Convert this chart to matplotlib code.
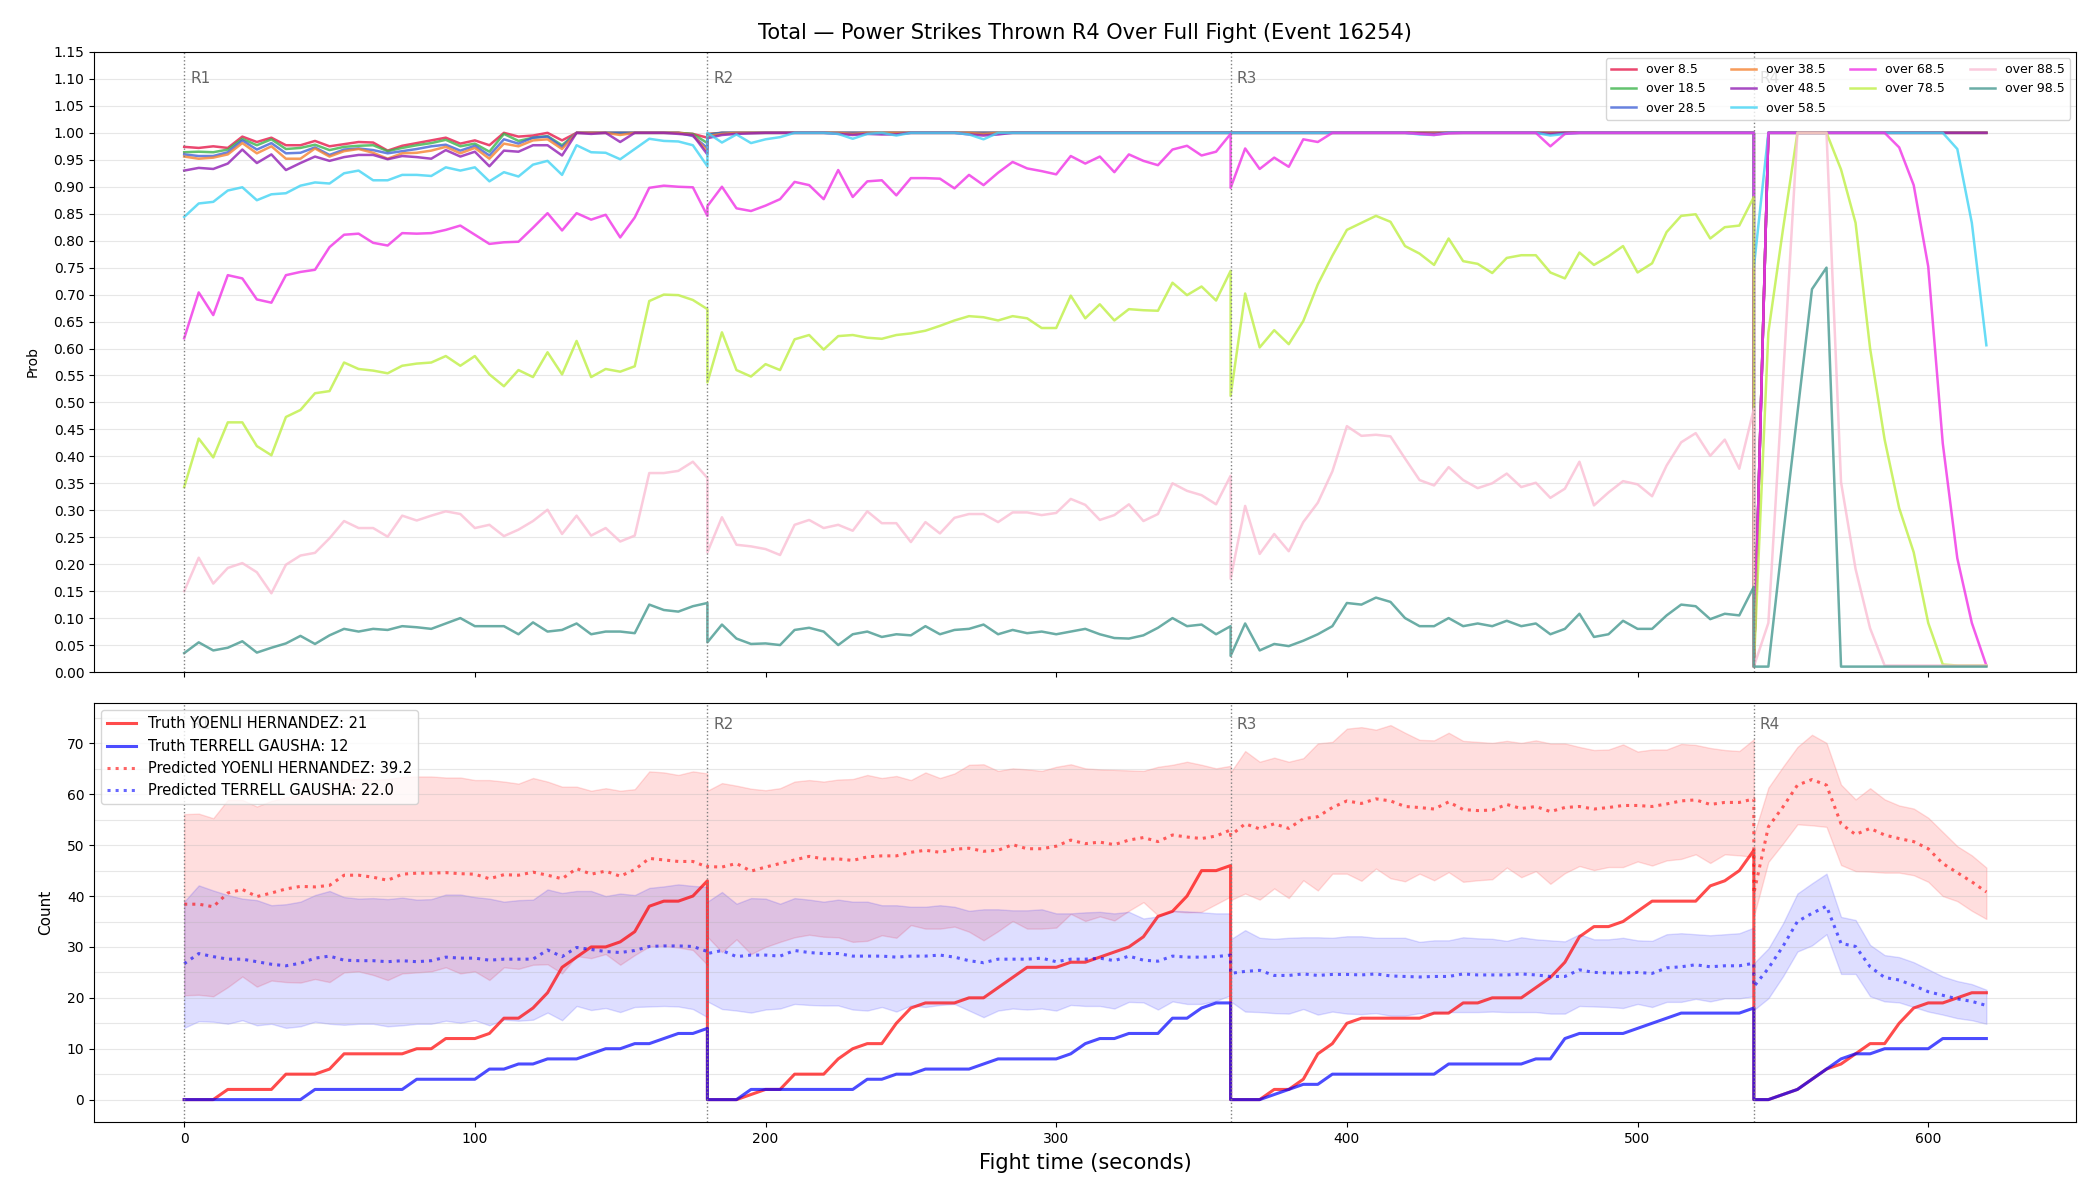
import numpy as np
import matplotlib.pyplot as plt
from matplotlib.ticker import MultipleLocator, FormatStrFormatter

# ---- time grid (seconds into each round, 5 s sampling) ----
ROUND_STARTS = [0, 180, 360, 540]
ROUND_NAMES = ["R1", "R2", "R3", "R4"]
ROUND_CLOCK = list(range(0, 181, 5))   # full rounds R1-R3
R4_CLOCK = list(range(0, 81, 5))       # R4 stopped at 80 s

# ---- top panel: P(over line), one list per round ----
p8_5 = [
    [0.974, 0.972, 0.975, 0.972, 0.993, 0.983, 0.991, 0.977, 0.977, 0.985, 0.975, 0.979, 0.983, 0.982, 0.967, 0.976, 0.981, 0.986, 0.991,
     0.980, 0.986, 0.977, 1.0, 0.993, 0.995, 1.0, 0.986, 1.0, 1.0, 1.0, 1.0, 1.0, 1.0, 1.0, 1.0, 0.998, 0.991],
    [0.998, 1.0, 1.0, 1.0, 1.0, 1.0, 1.0, 1.0, 1.0, 1.0, 1.0, 1.0, 1.0, 1.0, 1.0, 1.0, 1.0, 1.0, 1.0,
     1.0, 1.0, 1.0, 1.0, 1.0, 1.0, 1.0, 1.0, 1.0, 1.0, 1.0, 1.0, 1.0, 1.0, 1.0, 1.0, 1.0, 1.0],
    [1.0, 1.0, 1.0, 1.0, 1.0, 1.0, 1.0, 1.0, 1.0, 1.0, 1.0, 1.0, 1.0, 1.0, 1.0, 1.0, 1.0, 1.0, 1.0,
     1.0, 1.0, 1.0, 1.0, 1.0, 1.0, 1.0, 1.0, 1.0, 1.0, 1.0, 1.0, 1.0, 1.0, 1.0, 1.0, 1.0, 1.0],
    [0.01, 1.0, 1.0, 1.0, 1.0, 1.0, 1.0, 1.0, 1.0, 1.0, 1.0, 1.0, 1.0, 1.0, 1.0, 1.0, 1.0],
]
p18_5 = [
    [0.964, 0.965, 0.964, 0.969, 0.989, 0.977, 0.988, 0.970, 0.972, 0.978, 0.968, 0.974, 0.976, 0.977, 0.966, 0.972, 0.977, 0.981, 0.987,
     0.975, 0.980, 0.965, 0.998, 0.985, 0.991, 0.994, 0.977, 1.0, 1.0, 1.0, 1.0, 1.0, 1.0, 1.0, 1.0, 0.998, 0.981],
    [0.997, 1.0, 1.0, 1.0, 1.0, 1.0, 1.0, 1.0, 1.0, 1.0, 1.0, 1.0, 1.0, 1.0, 1.0, 1.0, 1.0, 1.0, 1.0,
     1.0, 1.0, 1.0, 1.0, 1.0, 1.0, 1.0, 1.0, 1.0, 1.0, 1.0, 1.0, 1.0, 1.0, 1.0, 1.0, 1.0, 1.0],
    [1.0, 1.0, 1.0, 1.0, 1.0, 1.0, 1.0, 1.0, 1.0, 1.0, 1.0, 1.0, 1.0, 1.0, 1.0, 1.0, 1.0, 1.0, 1.0,
     1.0, 1.0, 1.0, 1.0, 1.0, 1.0, 1.0, 1.0, 1.0, 1.0, 1.0, 1.0, 1.0, 1.0, 1.0, 1.0, 1.0, 1.0],
    [0.01, 1.0, 1.0, 1.0, 1.0, 1.0, 1.0, 1.0, 1.0, 1.0, 1.0, 1.0, 1.0, 1.0, 1.0, 1.0, 1.0],
]
p28_5 = [
    [0.960, 0.957, 0.957, 0.964, 0.986, 0.969, 0.981, 0.962, 0.963, 0.973, 0.959, 0.969, 0.971, 0.968, 0.962, 0.966, 0.970, 0.975, 0.978,
     0.967, 0.976, 0.958, 0.988, 0.980, 0.991, 0.993, 0.974, 1.0, 1.0, 1.0, 1.0, 1.0, 1.0, 1.0, 1.0, 0.994, 0.972],
    [0.996, 1.0, 1.0, 1.0, 1.0, 1.0, 1.0, 1.0, 1.0, 1.0, 1.0, 1.0, 1.0, 1.0, 1.0, 1.0, 1.0, 1.0, 1.0,
     1.0, 1.0, 1.0, 1.0, 1.0, 1.0, 1.0, 1.0, 1.0, 1.0, 1.0, 1.0, 1.0, 1.0, 1.0, 1.0, 1.0, 1.0],
    [1.0, 1.0, 1.0, 1.0, 1.0, 1.0, 1.0, 1.0, 1.0, 1.0, 1.0, 1.0, 1.0, 1.0, 1.0, 1.0, 1.0, 1.0, 1.0,
     1.0, 1.0, 1.0, 1.0, 1.0, 1.0, 1.0, 1.0, 1.0, 1.0, 1.0, 1.0, 1.0, 1.0, 1.0, 1.0, 1.0, 1.0],
    [0.01, 1.0, 1.0, 1.0, 1.0, 1.0, 1.0, 1.0, 1.0, 1.0, 1.0, 1.0, 1.0, 1.0, 1.0, 1.0, 1.0],
]
p38_5 = [
    [0.956, 0.952, 0.954, 0.960, 0.981, 0.962, 0.975, 0.952, 0.952, 0.971, 0.956, 0.966, 0.970, 0.963, 0.952, 0.962, 0.963, 0.967, 0.974,
     0.962, 0.972, 0.952, 0.980, 0.975, 0.986, 0.988, 0.970, 1.0, 1.0, 1.0, 0.996, 1.0, 1.0, 1.0, 1.0, 0.996, 0.966],
    [0.994, 0.998, 1.0, 1.0, 1.0, 1.0, 1.0, 1.0, 1.0, 1.0, 0.998, 1.0, 1.0, 1.0, 1.0, 1.0, 1.0, 1.0, 1.0,
     0.998, 1.0, 1.0, 1.0, 1.0, 1.0, 1.0, 1.0, 1.0, 1.0, 1.0, 1.0, 1.0, 1.0, 1.0, 1.0, 1.0, 1.0],
    [1.0, 1.0, 1.0, 1.0, 1.0, 1.0, 1.0, 1.0, 1.0, 1.0, 1.0, 1.0, 1.0, 1.0, 1.0, 1.0, 1.0, 1.0, 1.0,
     1.0, 1.0, 1.0, 1.0, 1.0, 1.0, 1.0, 1.0, 1.0, 1.0, 1.0, 1.0, 1.0, 1.0, 1.0, 1.0, 1.0, 1.0],
    [0.01, 1.0, 1.0, 1.0, 1.0, 1.0, 1.0, 1.0, 1.0, 1.0, 1.0, 1.0, 1.0, 1.0, 1.0, 1.0, 1.0],
]
p48_5 = [
    [0.930, 0.935, 0.933, 0.943, 0.969, 0.944, 0.960, 0.931, 0.944, 0.956, 0.948, 0.955, 0.959, 0.959, 0.951, 0.957, 0.955, 0.952, 0.968,
     0.956, 0.965, 0.938, 0.967, 0.965, 0.977, 0.977, 0.958, 1.0, 0.998, 1.0, 0.983, 1.0, 1.0, 1.0, 0.998, 0.996, 0.960],
    [0.990, 0.996, 0.998, 0.999, 1.0, 1.0, 1.0, 1.0, 1.0, 0.998, 0.996, 0.998, 0.997, 0.997, 1.0, 1.0, 1.0, 1.0, 0.997,
     0.995, 0.997, 1.0, 1.0, 1.0, 1.0, 1.0, 1.0, 1.0, 1.0, 1.0, 1.0, 1.0, 1.0, 1.0, 1.0, 1.0, 1.0],
    [1.0, 1.0, 1.0, 1.0, 1.0, 1.0, 1.0, 1.0, 1.0, 1.0, 1.0, 1.0, 1.0, 0.999, 0.998, 1.0, 1.0, 1.0, 1.0,
     1.0, 1.0, 1.0, 0.998, 1.0, 1.0, 1.0, 1.0, 1.0, 1.0, 1.0, 1.0, 1.0, 1.0, 1.0, 1.0, 1.0, 1.0],
    [0.01, 1.0, 1.0, 1.0, 1.0, 1.0, 1.0, 1.0, 1.0, 1.0, 1.0, 1.0, 1.0, 1.0, 1.0, 1.0, 1.0],
]
p58_5 = [
    [0.844, 0.869, 0.872, 0.893, 0.899, 0.875, 0.886, 0.888, 0.902, 0.908, 0.906, 0.925, 0.930, 0.912, 0.912, 0.922, 0.922, 0.920, 0.936,
     0.930, 0.936, 0.910, 0.927, 0.919, 0.941, 0.948, 0.922, 0.977, 0.964, 0.963, 0.951, 0.970, 0.989, 0.985, 0.984, 0.977, 0.938],
    [1.0, 0.982, 0.997, 0.981, 0.988, 0.992, 1.0, 1.0, 1.0, 0.998, 0.989, 0.998, 1.0, 0.995, 1.0, 1.0, 1.0, 1.0, 0.997,
     0.988, 1.0, 1.0, 1.0, 1.0, 1.0, 1.0, 1.0, 1.0, 1.0, 1.0, 1.0, 1.0, 1.0, 1.0, 1.0, 1.0, 1.0],
    [1.0, 1.0, 1.0, 1.0, 1.0, 1.0, 1.0, 1.0, 1.0, 1.0, 1.0, 1.0, 1.0, 0.997, 0.996, 1.0, 1.0, 1.0, 1.0,
     1.0, 1.0, 1.0, 0.995, 0.998, 1.0, 1.0, 1.0, 1.0, 1.0, 1.0, 1.0, 1.0, 1.0, 1.0, 1.0, 1.0, 1.0],
    [0.75, 1.0, 1.0, 1.0, 1.0, 1.0, 1.0, 1.0, 1.0, 1.0, 1.0, 1.0, 1.0, 1.0, 0.970, 0.833, 0.606],
]
p68_5 = [
    [0.619, 0.704, 0.662, 0.736, 0.730, 0.691, 0.685, 0.736, 0.742, 0.746, 0.788, 0.811, 0.813, 0.796, 0.791, 0.814, 0.813, 0.814, 0.820,
     0.828, 0.811, 0.794, 0.797, 0.798, 0.824, 0.851, 0.819, 0.851, 0.839, 0.848, 0.806, 0.843, 0.898, 0.902, 0.900, 0.899, 0.846],
    [0.864, 0.900, 0.860, 0.855, 0.865, 0.877, 0.909, 0.903, 0.877, 0.931, 0.881, 0.910, 0.912, 0.884, 0.916, 0.916, 0.915, 0.897, 0.922,
     0.903, 0.926, 0.946, 0.934, 0.929, 0.923, 0.957, 0.943, 0.956, 0.927, 0.960, 0.948, 0.940, 0.969, 0.976, 0.958, 0.965, 0.998],
    [0.898, 0.971, 0.933, 0.954, 0.937, 0.988, 0.983, 1.0, 1.0, 1.0, 1.0, 1.0, 1.0, 0.998, 0.996, 0.999, 1.0, 1.0, 1.0,
     1.0, 1.0, 1.0, 0.975, 0.998, 1.0, 1.0, 1.0, 1.0, 1.0, 1.0, 1.0, 1.0, 1.0, 1.0, 1.0, 1.0, 1.0],
    [0.01, 1.0, 1.0, 1.0, 1.0, 1.0, 1.0, 1.0, 1.0, 1.0, 0.973, 0.903, 0.752, 0.424, 0.211, 0.091, 0.012],
]
p78_5 = [
    [0.343, 0.433, 0.398, 0.463, 0.463, 0.419, 0.402, 0.473, 0.486, 0.517, 0.521, 0.574, 0.562, 0.559, 0.554, 0.568, 0.572, 0.574, 0.586,
     0.568, 0.586, 0.552, 0.530, 0.560, 0.547, 0.593, 0.552, 0.614, 0.547, 0.562, 0.557, 0.567, 0.688, 0.700, 0.699, 0.690, 0.673],
    [0.537, 0.630, 0.560, 0.548, 0.571, 0.560, 0.617, 0.625, 0.598, 0.623, 0.625, 0.620, 0.618, 0.625, 0.628, 0.633, 0.642, 0.652, 0.660,
     0.658, 0.652, 0.660, 0.656, 0.638, 0.638, 0.698, 0.656, 0.682, 0.652, 0.673, 0.671, 0.670, 0.722, 0.699, 0.715, 0.689, 0.744],
    [0.512, 0.702, 0.602, 0.634, 0.608, 0.651, 0.719, 0.772, 0.820, 0.833, 0.846, 0.835, 0.790, 0.776, 0.755, 0.804, 0.762, 0.757, 0.740,
     0.768, 0.773, 0.773, 0.741, 0.730, 0.778, 0.755, 0.771, 0.790, 0.741, 0.758, 0.816, 0.846, 0.849, 0.804, 0.825, 0.828, 0.881],
    [0.01, 0.63, 0.82, 1.0, 1.0, 1.0, 0.932, 0.833, 0.600, 0.431, 0.304, 0.222, 0.091, 0.014, 0.012, 0.012, 0.012],
]
p88_5 = [
    [0.150, 0.212, 0.164, 0.193, 0.202, 0.185, 0.146, 0.199, 0.216, 0.221, 0.248, 0.280, 0.267, 0.267, 0.251, 0.290, 0.281, 0.290, 0.298,
     0.293, 0.267, 0.273, 0.252, 0.264, 0.280, 0.301, 0.256, 0.290, 0.253, 0.267, 0.242, 0.253, 0.369, 0.369, 0.373, 0.390, 0.360],
    [0.222, 0.287, 0.236, 0.233, 0.228, 0.217, 0.273, 0.282, 0.267, 0.273, 0.262, 0.298, 0.276, 0.276, 0.241, 0.278, 0.257, 0.286, 0.293,
     0.293, 0.278, 0.296, 0.296, 0.291, 0.295, 0.321, 0.310, 0.282, 0.291, 0.311, 0.280, 0.293, 0.350, 0.336, 0.328, 0.311, 0.364],
    [0.173, 0.308, 0.219, 0.256, 0.224, 0.278, 0.314, 0.372, 0.456, 0.438, 0.440, 0.437, 0.396, 0.356, 0.346, 0.380, 0.356, 0.341, 0.350,
     0.368, 0.343, 0.351, 0.323, 0.340, 0.390, 0.309, 0.333, 0.354, 0.348, 0.326, 0.383, 0.426, 0.443, 0.401, 0.431, 0.377, 0.488],
    [0.01, 0.091, 0.54, 1.0, 1.0, 1.0, 0.352, 0.191, 0.081, 0.012, 0.012, 0.012, 0.012, 0.012, 0.012, 0.012, 0.012],
]
p98_5 = [
    [0.035, 0.055, 0.040, 0.045, 0.057, 0.036, 0.045, 0.053, 0.067, 0.052, 0.068, 0.080, 0.075, 0.080, 0.078, 0.085, 0.083, 0.080, 0.090,
     0.100, 0.085, 0.085, 0.085, 0.070, 0.092, 0.075, 0.078, 0.090, 0.070, 0.075, 0.075, 0.072, 0.125, 0.115, 0.112, 0.122, 0.128],
    [0.055, 0.088, 0.062, 0.052, 0.053, 0.050, 0.078, 0.082, 0.075, 0.050, 0.070, 0.075, 0.065, 0.070, 0.068, 0.085, 0.070, 0.078, 0.080,
     0.088, 0.070, 0.078, 0.072, 0.075, 0.070, 0.075, 0.080, 0.070, 0.063, 0.062, 0.068, 0.082, 0.100, 0.085, 0.088, 0.070, 0.085],
    [0.030, 0.090, 0.040, 0.052, 0.048, 0.058, 0.070, 0.085, 0.128, 0.125, 0.138, 0.130, 0.100, 0.085, 0.085, 0.100, 0.085, 0.090, 0.085,
     0.095, 0.085, 0.090, 0.070, 0.080, 0.108, 0.065, 0.070, 0.095, 0.080, 0.080, 0.105, 0.125, 0.122, 0.098, 0.108, 0.105, 0.158],
    [0.01, 0.01, 0.25, 0.48, 0.71, 0.75, 0.01, 0.01, 0.01, 0.01, 0.01, 0.01, 0.01, 0.01, 0.01, 0.01, 0.01],
]

LINES = ["over 8.5", "over 18.5", "over 28.5", "over 38.5", "over 48.5",
         "over 58.5", "over 68.5", "over 78.5", "over 88.5", "over 98.5"]
LINE_COLORS = ["#e6194b", "#3cb44b", "#4363d8", "#f58231", "#911eb4",
               "#42d4f4", "#f032e6", "#bfef45", "#fabed4", "#469990"]

# ---- bottom panel: cumulative counts per round ----
hernandez_truth = [
    [0, 0, 0, 2, 2, 2, 2, 5, 5, 5, 6, 9, 9, 9, 9, 9, 10, 10, 12, 12, 12, 13, 16, 16, 18, 21, 26, 28, 30, 30, 31, 33, 38, 39, 39, 40, 43],
    [0, 0, 0, 1, 2, 2, 5, 5, 5, 8, 10, 11, 11, 15, 18, 19, 19, 19, 20, 20, 22, 24, 26, 26, 26, 27, 27, 28, 29, 30, 32, 36, 37, 40, 45, 45, 46],
    [0, 0, 0, 2, 2, 4, 9, 11, 15, 16, 16, 16, 16, 16, 17, 17, 19, 19, 20, 20, 20, 22, 24, 27, 32, 34, 34, 35, 37, 39, 39, 39, 39, 42, 43, 45, 49],
    [0, 0, 1, 2, 4, 6, 7, 9, 11, 11, 15, 18, 19, 19, 20, 21, 21],
]
gausha_truth = [
    [0, 0, 0, 0, 0, 0, 0, 0, 0, 2, 2, 2, 2, 2, 2, 2, 4, 4, 4, 4, 4, 6, 6, 7, 7, 8, 8, 8, 9, 10, 10, 11, 11, 12, 13, 13, 14],
    [0, 0, 0, 2, 2, 2, 2, 2, 2, 2, 2, 4, 4, 5, 5, 6, 6, 6, 6, 7, 8, 8, 8, 8, 8, 9, 11, 12, 12, 13, 13, 13, 16, 16, 18, 19, 19],
    [0, 0, 0, 1, 2, 3, 3, 5, 5, 5, 5, 5, 5, 5, 5, 7, 7, 7, 7, 7, 7, 8, 8, 12, 13, 13, 13, 13, 14, 15, 16, 17, 17, 17, 17, 17, 18],
    [0, 0, 1, 2, 4, 6, 8, 9, 9, 10, 10, 10, 10, 12, 12, 12, 12],
]
hernandez_pred = [
    [38.4, 38.4, 37.9, 40.6, 41.3, 39.9, 40.6, 41.4, 41.9, 41.8, 42.1, 44.1, 44.1, 43.7, 43.1, 44.3, 44.5, 44.5, 44.6,
     44.4, 44.3, 43.4, 44.2, 44.1, 44.7, 44.1, 43.4, 45.4, 44.3, 44.9, 43.9, 45.2, 47.4, 47.1, 46.8, 46.8, 45.7],
    [45.8, 45.7, 46.4, 44.9, 45.7, 46.4, 47.1, 47.8, 47.3, 47.3, 47.0, 47.7, 47.9, 47.9, 48.6, 49.0, 48.6, 49.2, 49.4,
     48.8, 49.0, 50.1, 49.3, 49.3, 49.8, 51.0, 50.3, 50.6, 50.1, 51.0, 51.5, 50.7, 52.0, 51.6, 51.3, 51.8, 53.0],
    [51.9, 54.2, 53.2, 54.2, 53.3, 55.2, 55.6, 57.4, 58.7, 58.2, 59.1, 58.7, 57.6, 57.4, 57.1, 58.5, 57.0, 56.8, 56.9,
     58.0, 57.2, 57.6, 56.6, 57.4, 57.6, 57.1, 57.4, 57.8, 57.8, 57.6, 58.1, 58.7, 58.9, 58.0, 58.4, 58.4, 59.1],
    [40.5, 53.6, 57.5, 61.8, 62.9, 61.8, 54.2, 52.1, 53.3, 52.0, 51.3, 50.7, 49.3, 46.4, 44.6, 42.8, 40.8],
]
hernandez_hi = [
    [56.1, 56.2, 55.3, 58.9, 58.9, 57.6, 58.7, 59.4, 59.9, 60.0, 61.2, 62.9, 63.0, 62.8, 63.0, 63.4, 63.5, 63.5, 63.3,
     63.3, 62.8, 62.8, 62.5, 62.1, 63.2, 62.5, 61.5, 61.5, 60.7, 61.2, 60.7, 61.0, 64.5, 64.3, 63.8, 64.5, 64.1],
    [60.7, 62.2, 61.7, 61.1, 60.8, 61.2, 62.5, 62.8, 62.5, 62.9, 63.0, 63.8, 63.2, 63.6, 62.8, 64.3, 63.2, 64.1, 65.8,
     65.9, 64.6, 65.1, 64.9, 64.6, 65.4, 65.9, 65.1, 64.9, 64.8, 64.7, 64.6, 65.4, 65.8, 66.4, 65.8, 65.1, 65.6],
    [64.3, 68.5, 66.4, 67.2, 66.4, 67.1, 70.0, 70.3, 72.9, 73.2, 72.7, 73.6, 72.1, 70.7, 70.6, 72.1, 70.5, 70.3, 70.1,
     70.5, 70.1, 70.6, 70.0, 70.0, 69.3, 68.7, 68.8, 69.8, 68.4, 68.8, 68.8, 69.9, 69.7, 69.1, 68.7, 68.5, 70.8],
    [52.0, 61.3, 65.4, 69.3, 71.7, 70.1, 61.9, 59.0, 61.2, 59.0, 57.8, 57.2, 55.4, 52.6, 49.8, 48.0, 45.6],
]
hernandez_lo = [
    [20.5, 20.6, 20.3, 22.1, 24.2, 22.2, 23.4, 23.1, 23.0, 23.7, 23.1, 25.0, 25.2, 24.5, 23.5, 24.8, 25.0, 25.2, 26.0,
     24.8, 25.2, 23.5, 26.0, 25.7, 26.5, 26.6, 24.8, 28.2, 27.8, 28.6, 26.5, 28.4, 30.1, 30.2, 29.9, 29.4, 26.5],
    [32.0, 29.0, 31.5, 28.6, 30.0, 31.0, 31.9, 32.4, 32.0, 31.9, 31.0, 31.2, 32.3, 31.8, 34.3, 33.6, 33.6, 34.0, 33.0,
     31.3, 33.1, 35.1, 33.6, 33.6, 33.8, 36.5, 35.1, 36.0, 35.2, 37.1, 38.8, 36.2, 37.0, 36.8, 36.9, 38.4, 39.9],
    [39.2, 40.5, 39.3, 41.5, 39.6, 43.1, 41.1, 44.4, 44.4, 43.0, 45.4, 43.5, 42.9, 44.4, 43.1, 44.7, 42.8, 43.1, 43.3,
     45.6, 43.7, 44.9, 42.4, 44.5, 45.9, 45.1, 45.7, 45.7, 46.8, 46.0, 47.0, 47.3, 48.2, 46.5, 48.2, 48.0, 47.7],
    [36.0, 46.7, 50.3, 54.1, 53.9, 53.6, 46.1, 44.9, 44.8, 44.6, 44.6, 44.1, 42.8, 40.0, 39.0, 37.1, 35.5],
]
gausha_pred = [
    [26.7, 28.7, 28.1, 27.6, 27.6, 27.1, 26.6, 26.3, 26.8, 27.8, 28.2, 27.4, 27.3, 27.3, 27.1, 27.3, 27.1, 27.3, 28.0,
     27.8, 27.8, 27.4, 27.6, 27.6, 27.6, 29.4, 28.1, 29.9, 29.5, 29.1, 28.9, 29.3, 30.1, 30.2, 30.2, 30.1, 29.1],
    [28.7, 29.3, 28.1, 28.4, 28.4, 28.2, 29.3, 28.9, 28.7, 28.7, 28.2, 28.2, 28.2, 28.0, 28.2, 28.2, 28.4, 28.0, 27.3,
     26.9, 27.6, 27.6, 27.6, 27.8, 27.1, 27.6, 27.6, 27.8, 27.3, 28.2, 27.4, 27.2, 28.2, 28.0, 28.0, 28.1, 28.4],
    [24.8, 25.2, 25.4, 24.4, 24.4, 24.7, 24.4, 24.6, 24.6, 24.5, 24.7, 24.3, 24.2, 24.1, 24.2, 24.2, 24.7, 24.5, 24.5,
     24.5, 24.7, 24.5, 24.2, 24.2, 25.5, 25.0, 24.9, 24.9, 25.0, 24.8, 25.9, 26.1, 26.5, 26.1, 26.3, 26.3, 26.8],
    [22.2, 25.8, 30.1, 35.0, 36.6, 38.0, 30.7, 30.1, 26.1, 24.0, 23.5, 22.4, 21.2, 20.5, 19.8, 19.3, 18.5],
]
gausha_hi = [
    [38.9, 42.1, 41.1, 40.2, 39.5, 39.2, 38.2, 38.4, 38.9, 40.2, 41.0, 39.8, 39.5, 39.6, 39.4, 39.7, 39.3, 39.4, 40.3,
     40.3, 39.8, 39.5, 38.9, 39.2, 39.3, 41.3, 40.6, 41.0, 41.0, 40.0, 40.5, 40.2, 41.6, 41.9, 42.3, 42.0, 41.8],
    [38.9, 40.8, 38.5, 39.6, 39.5, 38.5, 39.6, 39.3, 38.9, 39.3, 38.9, 38.9, 38.2, 38.2, 37.9, 37.9, 38.2, 37.9, 37.1,
     37.4, 37.4, 37.2, 37.2, 37.4, 36.6, 36.6, 36.8, 36.9, 36.6, 36.9, 35.6, 36.0, 37.1, 37.0, 36.8, 36.6, 36.6],
    [31.5, 33.3, 31.8, 31.6, 31.8, 31.9, 31.9, 31.8, 32.1, 32.1, 31.8, 31.8, 31.8, 31.0, 31.3, 31.3, 31.9, 31.7, 31.6,
     31.2, 31.9, 31.5, 31.3, 31.1, 32.5, 31.5, 31.5, 31.8, 31.3, 31.2, 32.5, 32.7, 32.5, 32.3, 32.5, 32.7, 33.8],
    [26.8, 29.7, 34.6, 40.5, 42.5, 44.4, 35.9, 35.3, 30.4, 28.4, 28.0, 27.0, 25.6, 24.2, 23.3, 22.7, 21.6],
]
gausha_lo = [
    [14.1, 15.4, 15.3, 14.9, 15.6, 14.6, 14.9, 14.1, 14.4, 15.3, 14.9, 14.7, 14.9, 14.9, 14.4, 14.6, 14.9, 14.9, 15.5,
     15.1, 15.6, 14.6, 15.7, 15.5, 15.7, 17.1, 15.6, 18.4, 17.6, 18.0, 17.2, 18.2, 18.3, 18.4, 18.3, 17.8, 16.2],
    [19.3, 17.8, 17.5, 17.1, 17.7, 17.9, 18.8, 18.6, 18.5, 18.5, 17.7, 17.5, 18.2, 17.3, 18.5, 18.2, 18.6, 18.8, 17.5,
     16.2, 17.5, 17.9, 17.7, 17.9, 17.5, 18.6, 18.4, 18.4, 17.9, 19.2, 19.1, 17.7, 19.3, 18.8, 18.8, 19.4, 20.5],
    [19.3, 17.3, 17.2, 17.0, 16.9, 17.8, 16.7, 17.3, 16.9, 16.8, 17.0, 16.5, 16.5, 17.0, 17.0, 17.2, 17.2, 17.2, 17.3,
     17.2, 17.2, 17.2, 16.9, 16.9, 18.4, 18.3, 18.2, 18.0, 18.8, 18.2, 19.2, 19.2, 19.8, 19.3, 19.9, 19.9, 20.3],
    [17.6, 19.9, 24.2, 29.1, 30.3, 32.5, 24.7, 24.7, 20.3, 19.3, 19.1, 18.2, 17.3, 16.7, 16.0, 15.6, 14.9],
]


def fight_series(rounds):
    """Join per-round lists into one fight-time series (restart at each bell)."""
    xs, ys = [], []
    for start, vals in zip(ROUND_STARTS, rounds):
        clock = ROUND_CLOCK if len(vals) == len(ROUND_CLOCK) else R4_CLOCK
        xs.extend(start + c for c in clock)
        ys.extend(vals)
    return np.array(xs, dtype=float), np.array(ys, dtype=float)


fig = plt.figure(figsize=(21, 12), dpi=100)
ax1 = fig.add_axes([0.0448, 0.44, 0.944, 0.5167])
ax2 = fig.add_axes([0.0448, 0.065, 0.944, 0.349], sharex=ax1)

# top: probabilities
for name, rounds, color in zip(LINES, [p8_5, p18_5, p28_5, p38_5, p48_5, p58_5, p68_5, p78_5, p88_5, p98_5], LINE_COLORS):
    x, y = fight_series(rounds)
    ax1.plot(x, y, color=color, lw=1.8, alpha=0.8, label=name)

ax1.set_ylim(0, 1.15)
ax1.yaxis.set_major_locator(MultipleLocator(0.05))
ax1.yaxis.set_major_formatter(FormatStrFormatter('%.2f'))
ax1.grid(axis='y', alpha=0.3)
ax1.set_ylabel('Prob', fontsize=10, labelpad=10)
ax1.tick_params(labelbottom=False)
ax1.set_title('Total \u2014 Power Strikes Thrown R4 Over Full Fight (Event 16254)', fontsize=15, pad=9)

# bottom: counts
for lo, hi, color in [(hernandez_lo, hernandez_hi, 'red'), (gausha_lo, gausha_hi, 'blue')]:
    x, ylo = fight_series(lo)
    _, yhi = fight_series(hi)
    ax2.fill_between(x, ylo, yhi, color=color, alpha=0.13)

x, y = fight_series(hernandez_truth)
ax2.plot(x, y, color='red', lw=2.2, alpha=0.7, label=f'Truth YOENLI HERNANDEZ: {int(y[-1])}')
x, y = fight_series(gausha_truth)
ax2.plot(x, y, color='blue', lw=2.2, alpha=0.7, label=f'Truth TERRELL GAUSHA: {int(y[-1])}')
x, y = fight_series(hernandez_pred)
ax2.plot(x, y, color='red', lw=2.2, ls=':', alpha=0.6, label='Predicted YOENLI HERNANDEZ: 39.2')
x, y = fight_series(gausha_pred)
ax2.plot(x, y, color='blue', lw=2.2, ls=':', alpha=0.6, label='Predicted TERRELL GAUSHA: 22.0')

ax2.set_ylim(-4.4, 77.9)
ax2.yaxis.set_major_locator(MultipleLocator(10))
ax2.yaxis.set_minor_locator(MultipleLocator(5))
ax2.tick_params(axis='y', which='minor', length=0)
ax2.grid(axis='y', which='both', alpha=0.3)
ax2.set_ylabel('Count', fontsize=11, labelpad=10)
ax2.set_xlabel('Fight time (seconds)', fontsize=15, labelpad=5)
ax2.set_xlim(-31, 651)

# round markers
for ax, ylab in [(ax1, 0.958), (ax2, 0.95)]:
    for start, name in zip(ROUND_STARTS, ROUND_NAMES):
        ax.axvline(start, color='gray', ls=':', lw=1)
        ax.text(start + 2, ylab, name, transform=ax.get_xaxis_transform(),
                fontsize=11, color='#666666', va='center', ha='left')

ax1.legend(loc='upper right', ncol=4, fontsize=9)
ax2.legend(loc='upper left', fontsize=10.5)

fig.savefig('out.png', dpi=100)
